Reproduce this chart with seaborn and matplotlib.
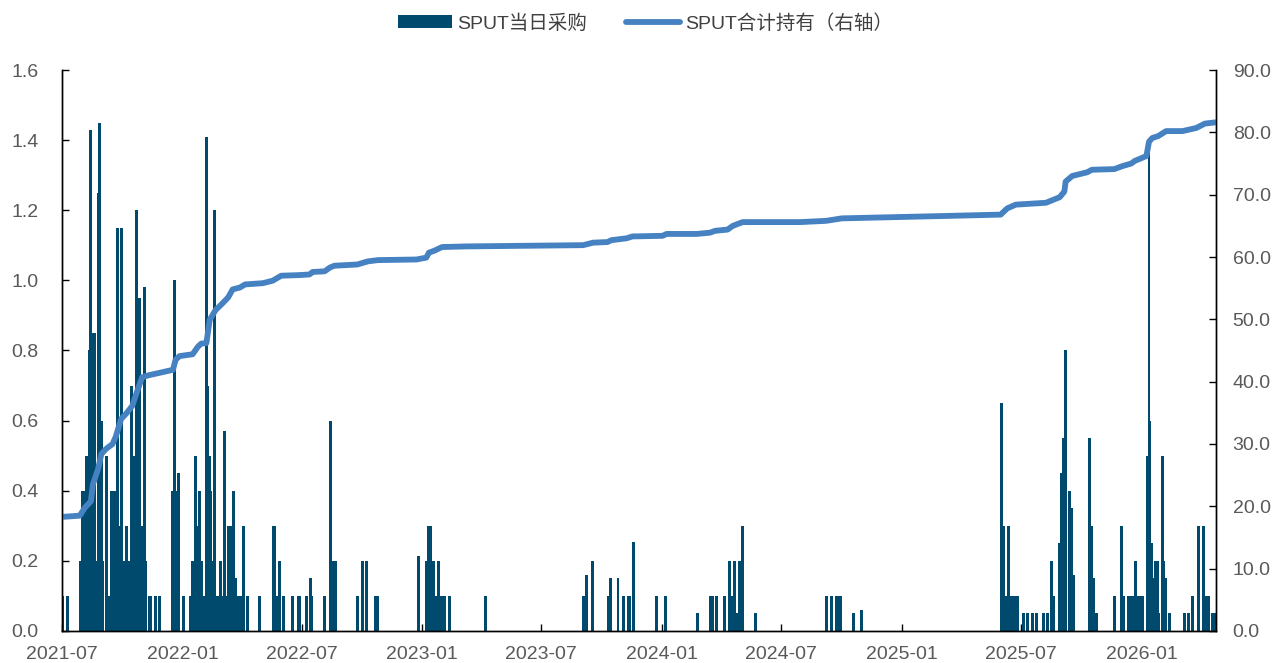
import seaborn as sns
import numpy as np
import pandas as pd
import matplotlib.dates as mdates
from matplotlib import pyplot as plt
from matplotlib.patches import Patch
from matplotlib.lines import Line2D

# SPUT daily purchases (million lbs)
buy_dates = [
    "2021-07-02", "2021-07-09", "2021-07-29", "2021-08-01", "2021-08-03", "2021-08-05",
    "2021-08-08", "2021-08-10", "2021-08-12", "2021-08-14", "2021-08-18", "2021-08-20",
    "2021-08-22", "2021-08-25", "2021-08-27", "2021-08-30", "2021-09-01", "2021-09-07",
    "2021-09-10", "2021-09-14", "2021-09-16", "2021-09-19", "2021-09-23", "2021-09-25",
    "2021-09-26", "2021-09-29", "2021-10-02", "2021-10-05", "2021-10-07", "2021-10-10",
    "2021-10-15", "2021-10-18", "2021-10-22", "2021-10-24", "2021-10-27", "2021-10-30",
    "2021-11-02", "2021-11-04", "2021-11-06", "2021-11-11", "2021-11-13", "2021-11-20",
    "2021-11-27", "2021-12-17", "2021-12-20", "2021-12-22", "2021-12-25",
    "2022-01-02", "2022-01-13", "2022-01-16", "2022-01-21", "2022-01-24", "2022-01-26",
    "2022-01-29", "2022-02-03", "2022-02-06", "2022-02-08", "2022-02-11", "2022-02-13",
    "2022-02-15", "2022-02-18", "2022-02-21", "2022-02-23", "2022-02-27", "2022-03-02",
    "2022-03-05", "2022-03-07", "2022-03-09", "2022-03-11", "2022-03-14", "2022-03-16",
    "2022-03-18", "2022-03-20", "2022-03-23", "2022-03-25", "2022-03-30", "2022-04-03",
    "2022-04-09", "2022-04-28", "2022-05-19", "2022-05-21", "2022-05-25", "2022-05-29",
    "2022-06-04", "2022-06-17", "2022-06-26", "2022-06-28", "2022-07-09", "2022-07-14",
    "2022-07-16", "2022-08-05", "2022-08-14", "2022-08-18", "2022-08-21", "2022-09-24",
    "2022-10-02", "2022-10-08", "2022-10-21", "2022-10-24", "2022-12-26",
    "2023-01-08", "2023-01-11", "2023-01-14", "2023-01-18", "2023-01-22", "2023-01-26",
    "2023-01-30", "2023-02-03", "2023-02-12", "2023-04-07", "2023-09-04", "2023-09-08",
    "2023-09-17", "2023-10-12", "2023-10-14", "2023-10-26", "2023-11-04", "2023-11-11",
    "2023-11-13", "2023-11-18", "2023-12-24",
    "2024-01-07", "2024-02-24", "2024-03-15", "2024-03-18", "2024-03-24", "2024-04-05",
    "2024-04-13", "2024-04-17", "2024-04-21", "2024-04-25", "2024-04-28", "2024-05-02",
    "2024-05-22", "2024-09-08", "2024-09-15", "2024-09-23", "2024-09-27", "2024-09-29",
    "2024-10-19", "2024-10-31",
    "2025-06-01", "2025-06-05", "2025-06-09", "2025-06-12", "2025-06-15", "2025-06-19",
    "2025-06-22", "2025-06-25", "2025-07-05", "2025-07-11", "2025-07-18", "2025-07-25",
    "2025-08-04", "2025-08-10", "2025-08-16", "2025-08-20", "2025-08-29", "2025-09-01",
    "2025-09-04", "2025-09-07", "2025-09-13", "2025-09-16", "2025-09-19", "2025-10-13",
    "2025-10-16", "2025-10-20", "2025-10-24", "2025-11-21", "2025-12-01", "2025-12-04",
    "2025-12-11", "2025-12-14", "2025-12-16", "2025-12-19", "2025-12-22", "2025-12-25",
    "2025-12-27", "2025-12-31",
    "2026-01-02", "2026-01-09", "2026-01-12", "2026-01-13", "2026-01-16", "2026-01-19",
    "2026-01-22", "2026-01-25", "2026-01-27", "2026-02-01", "2026-02-03", "2026-02-06",
    "2026-02-12", "2026-03-07", "2026-03-13", "2026-03-19", "2026-03-29", "2026-04-05",
    "2026-04-08", "2026-04-13", "2026-04-18", "2026-04-22",
]
buy_amounts = [
    0.1, 0.1, 0.2, 0.4, 0.4, 0.4,
    0.5, 0.2, 0.8, 1.43, 0.85, 0.85,
    0.2, 1.25, 1.45, 0.6, 0.2, 0.5,
    0.1, 0.4, 0.4, 0.4, 1.15, 0.2,
    0.3, 1.15, 0.2, 0.2, 0.3, 0.2,
    0.7, 0.5, 1.2, 0.58, 0.95, 0.3,
    0.2, 0.98, 0.2, 0.1, 0.1, 0.1,
    0.1, 0.4, 1.0, 0.4, 0.45,
    0.1, 0.1, 0.2, 0.5, 0.3, 0.4,
    0.2, 0.1, 1.41, 0.7, 0.5, 0.4,
    0.2, 1.2, 0.1, 0.1, 0.2, 0.1,
    0.57, 0.1, 0.1, 0.3, 0.1, 0.3,
    0.1, 0.4, 0.15, 0.1, 0.1, 0.3,
    0.1, 0.1, 0.3, 0.3, 0.1, 0.2,
    0.1, 0.1, 0.1, 0.1, 0.1, 0.15,
    0.1, 0.1, 0.6, 0.2, 0.2, 0.1,
    0.2, 0.2, 0.1, 0.1, 0.215,
    0.2, 0.3, 0.3, 0.2, 0.1, 0.2,
    0.1, 0.1, 0.1, 0.1, 0.1, 0.16,
    0.2, 0.1, 0.15, 0.15, 0.1, 0.1,
    0.1, 0.255, 0.1,
    0.1, 0.05, 0.1, 0.1, 0.1, 0.1,
    0.2, 0.1, 0.2, 0.05, 0.2, 0.3,
    0.05, 0.1, 0.1, 0.1, 0.1, 0.1,
    0.05, 0.06,
    0.65, 0.3, 0.1, 0.3, 0.1, 0.1,
    0.1, 0.1, 0.05, 0.05, 0.05, 0.05,
    0.05, 0.05, 0.2, 0.1, 0.25, 0.45,
    0.55, 0.8, 0.4, 0.35, 0.16, 0.55,
    0.3, 0.15, 0.05, 0.1, 0.3, 0.1,
    0.1, 0.1, 0.1, 0.1, 0.2, 0.1,
    0.1, 0.1,
    0.1, 0.5, 1.4, 0.6, 0.25, 0.15,
    0.2, 0.2, 0.05, 0.5, 0.2, 0.15,
    0.05, 0.05, 0.05, 0.1, 0.3, 0.3,
    0.1, 0.1, 0.05, 0.05,
]

# SPUT total holdings (million lbs, right axis)
hold_dates = [
    "2021-07-01", "2021-07-28", "2021-08-05", "2021-08-14", "2021-08-17", "2021-08-25",
    "2021-08-30", "2021-09-06", "2021-09-16", "2021-09-21", "2021-09-29", "2021-10-07",
    "2021-10-16", "2021-10-23", "2021-10-31", "2021-11-09", "2021-12-17", "2021-12-21",
    "2021-12-27", "2022-01-16", "2022-01-24", "2022-01-29", "2022-02-06", "2022-02-11",
    "2022-02-20", "2022-03-01", "2022-03-11", "2022-03-18", "2022-03-29", "2022-04-06",
    "2022-05-03", "2022-05-18", "2022-05-31", "2022-06-28", "2022-07-13", "2022-07-18",
    "2022-08-05", "2022-08-13", "2022-08-20", "2022-09-24", "2022-10-10", "2022-10-25",
    "2022-12-23", "2023-01-07", "2023-01-11", "2023-01-19", "2023-01-31", "2023-03-10",
    "2023-09-03", "2023-09-18", "2023-10-10", "2023-10-16", "2023-11-08", "2023-11-17",
    "2024-01-02", "2024-01-08", "2024-02-23", "2024-03-14", "2024-03-22", "2024-04-10",
    "2024-04-18", "2024-05-03", "2024-07-29", "2024-09-07", "2024-10-01", "2025-03-14",
    "2025-05-31", "2025-06-10", "2025-06-23", "2025-08-08", "2025-08-29", "2025-09-05",
    "2025-09-07", "2025-09-17", "2025-10-10", "2025-10-17", "2025-11-20", "2025-12-03",
    "2025-12-16", "2025-12-21", "2026-01-08", "2026-01-12", "2026-01-17", "2026-01-26",
    "2026-02-07", "2026-03-04", "2026-03-25", "2026-04-07", "2026-04-23",
]
hold_values = [
    18.3, 18.5, 19.8, 20.8, 23.5, 26.0,
    28.4, 29.2, 30.0, 31.2, 34.0, 34.9,
    36.1, 38.3, 40.7, 41.0, 41.9, 43.5,
    44.1, 44.4, 45.6, 46.1, 46.2, 49.9,
    51.5, 52.4, 53.5, 54.8, 55.1, 55.6,
    55.8, 56.2, 57.0, 57.1, 57.2, 57.6,
    57.7, 58.3, 58.6, 58.8, 59.3, 59.5,
    59.6, 59.9, 60.7, 61.0, 61.6, 61.7,
    61.9, 62.3, 62.4, 62.7, 63.0, 63.3,
    63.4, 63.7, 63.7, 63.9, 64.2, 64.4,
    65.0, 65.6, 65.6, 65.8, 66.2, 66.6,
    66.8, 67.8, 68.4, 68.7, 69.6, 70.5,
    72.1, 73.0, 73.6, 74.0, 74.1, 74.6,
    75.0, 75.4, 76.2, 78.5, 79.1, 79.4,
    80.2, 80.2, 80.7, 81.4, 81.6,
]

bars = pd.DataFrame({"date": pd.to_datetime(buy_dates), "amount": buy_amounts})
hold = pd.DataFrame({"date": pd.to_datetime(hold_dates), "total": hold_values})

BAR_COLOR = "#004a6e"
LINE_COLOR = "#4682c2"
TICK_COLOR = "#595959"

sns.set_theme(style="white")
plt.rcParams["font.family"] = ["Liberation Sans", "Noto Sans CJK SC", "DejaVu Sans"]

fig = plt.figure(figsize=(12.73, 6.63), dpi=100)
ax = fig.add_axes([0.0487, 0.0483, 0.9065, 0.8461])
ax2 = ax.twinx()

ax.bar(bars["date"], bars["amount"], width=4.5, color=BAR_COLOR, linewidth=0)
sns.lineplot(data=hold, x="date", y="total", ax=ax2, color=LINE_COLOR,
             linewidth=4.2, solid_capstyle="round")

ax.set_xlim(pd.Timestamp("2021-07-01"), pd.Timestamp("2026-04-24"))
ax.set_ylim(0, 1.6)
ax2.set_ylim(0, 90)
ax.set_yticks(np.arange(0, 1.61, 0.2))
ax2.set_yticks(np.arange(0, 90.1, 10))
ax.yaxis.set_major_formatter(plt.FormatStrFormatter("%.1f"))
ax2.yaxis.set_major_formatter(plt.FormatStrFormatter("%.1f"))
ax.xaxis.set_major_locator(mdates.MonthLocator(bymonth=[1, 7]))
ax.xaxis.set_major_formatter(mdates.DateFormatter("%Y-%m"))

ax.set_xlabel("")
ax.set_ylabel("")
ax2.set_xlabel("")
ax2.set_ylabel("")

for a in (ax, ax2):
    a.spines["top"].set_visible(False)
    for s in ("left", "right", "bottom"):
        a.spines[s].set_color("black")
        a.spines[s].set_linewidth(1.0)
    a.grid(False)

ax.tick_params(axis="x", direction="in", length=5, width=1, color="black",
               labelsize=14, labelcolor=TICK_COLOR, pad=11, bottom=True)
ax.tick_params(axis="y", direction="in", length=5, width=1, color="black",
               labelsize=14, labelcolor=TICK_COLOR, pad=17, left=True)
ax2.tick_params(axis="y", direction="in", length=5, width=1, color="black",
                labelsize=14, labelcolor=TICK_COLOR, pad=12, right=True)

handles = [Patch(facecolor=BAR_COLOR, edgecolor="none"),
           Line2D([], [], color=LINE_COLOR, linewidth=4.2)]
labels = ["SPUT当日采购", "SPUT合计持有（右轴）"]
fig.legend(handles, labels, loc="center", bbox_to_anchor=(0.507, 0.965), ncol=2,
           frameon=False, fontsize=14, handlelength=2.8, handleheight=0.6,
           handletextpad=0.25, columnspacing=2.0, labelcolor="#404040")

fig.savefig("out.png", dpi=100)
